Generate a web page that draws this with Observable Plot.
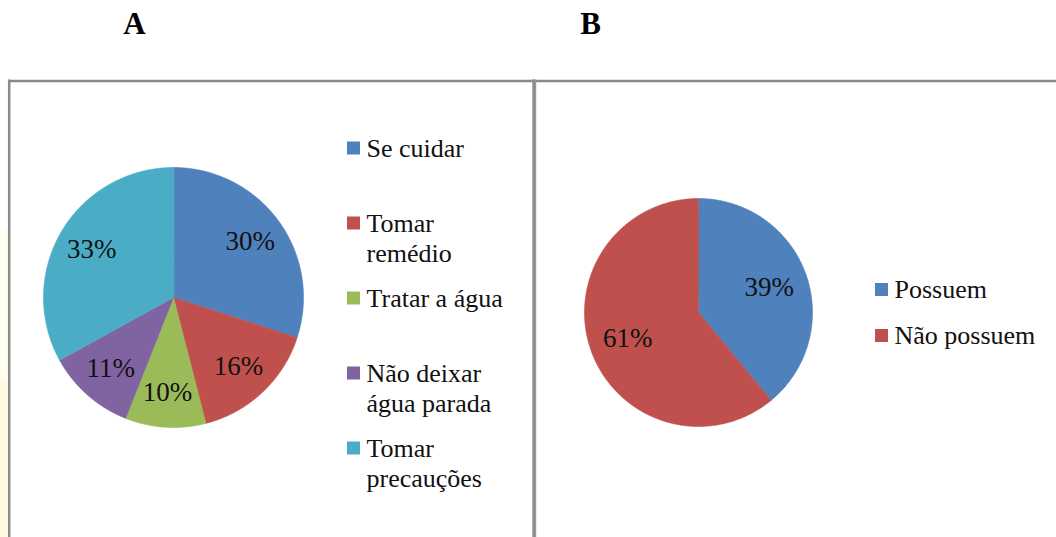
<!DOCTYPE html>
<html>
<head>
<meta charset="utf-8">
<script src="https://cdn.jsdelivr.net/npm/d3@7"></script>
<script src="https://cdn.jsdelivr.net/npm/@observablehq/plot@0.6"></script>
<style>
  html, body { margin: 0; padding: 0; background: #fff; }
  #chart svg { display: block; }
  #chart svg text { font-family: "Liberation Serif", "Times New Roman", Times, serif; }
</style>
</head>
<body>
<div id="chart"></div>
<script>
// ---------- data ----------
const panelTitles = ["A", "B"];
const categoriesA = ["Se cuidar", "Tomar remédio", "Tratar a água", "Não deixar água parada", "Tomar precauções"];
const valuesA = [30, 16, 10, 11, 33];
const legendLinesA = [["Se cuidar"], ["Tomar", "remédio"], ["Tratar a água"], ["Não deixar", "água parada"], ["Tomar", "precauções"]];
const categoriesB = ["Possuem", "Não possuem"];
const valuesB = [39, 61];
const legendLinesB = [["Possuem"], ["Não possuem"]];
const coloursA = ["#4F81BD", "#C0504D", "#9BBB59", "#8064A2", "#4BACC6"];
const coloursB = ["#4F81BD", "#C0504D"];

// ---------- layout ----------
const W = 1056, H = 537;
const font = "Liberation Serif, Times New Roman, serif";
const pies = [
  {id: "A", cats: categoriesA, vals: valuesA, lines: legendLinesA, cx: 173, cy: 297, r: 130, labelR: 0.73,
   legX: 347, legY0: 148, legStep: 75, titleX: 134},
  {id: "B", cats: categoriesB, vals: valuesB, lines: legendLinesB, cx: 698, cy: 312, r: 114, labelR: 0.66,
   legX: 875, legY0: 289.5, legStep: 46, titleX: 590}
];

const slicePts = [], labels = [], swatches = [], legendText = [];
for (const p of pies) {
  const arcs = d3.pie().sort(null).value(d => d.v)(p.cats.map((c, i) => ({c, v: p.vals[i]})));
  arcs.forEach((a, i) => {
    const key = p.id + i;
    slicePts.push({key, cat: a.data.c, x: p.cx, y: p.cy});
    const n = Math.max(2, Math.ceil((a.endAngle - a.startAngle) / (Math.PI / 360)));
    for (let k = 0; k <= n; k++) {
      const t = a.startAngle + (a.endAngle - a.startAngle) * k / n;
      slicePts.push({key, cat: a.data.c, x: p.cx + p.r * Math.sin(t), y: p.cy - p.r * Math.cos(t)});
    }
    const m = (a.startAngle + a.endAngle) / 2;
    labels.push({x: p.cx + p.r * p.labelR * Math.sin(m), y: p.cy - p.r * p.labelR * Math.cos(m), text: a.data.v + "%"});
    const yc = p.legY0 + i * p.legStep;
    swatches.push({cat: a.data.c, x1: p.legX, x2: p.legX + 13, y1: yc - 6.5, y2: yc + 6.5});
    p.lines[i].forEach((t, j) => legendText.push({x: p.legX + 19, y: yc + j * 30, text: t}));
  });
}

const titles = pies.map((p, i) => ({x: p.titleX, y: 23.5, text: panelTitles[i]}));

const chart = Plot.plot({
  width: W, height: H,
  margin: 0,
  x: {type: "linear", domain: [0, W], range: [0, W], axis: null},
  y: {type: "linear", domain: [0, H], range: [0, H], axis: null},
  color: {domain: categoriesA.concat(categoriesB), range: coloursA.concat(coloursB)},
  style: {fontFamily: font, background: "#fff"},
  marks: [
    // faint yellow glow on the left edge
    Plot.rect([{x1: 0, x2: 7.5, y1: 230, y2: 380}], {x1: "x1", x2: "x2", y1: "y1", y2: "y2", fill: "#fffdf0"}),
    Plot.rect([{x1: 0, x2: 7.5, y1: 380, y2: H}], {x1: "x1", x2: "x2", y1: "y1", y2: "y2", fill: "#fffbe2"}),
    // panel borders
    Plot.ruleY([80.5], {x1: 8.7, x2: W, stroke: "#8a8a8a", strokeWidth: 2.5}),
    Plot.ruleX([8.7], {y1: 79.5, y2: H, stroke: "#8a8a8a", strokeWidth: 2.5}),
    Plot.ruleX([533.7], {y1: 79.5, y2: H, stroke: "#999", strokeWidth: 4}),
    Plot.ruleX([533.7], {y1: 79.5, y2: H, stroke: "#8a8a8a", strokeWidth: 1.5}),
    // slices
    Plot.line(slicePts, {x: "x", y: "y", z: "key", fill: "cat", stroke: "cat", strokeWidth: 0.6, curve: "linear-closed"}),
    // slice labels
    Plot.text(labels, {x: "x", y: "y", text: "text", fontSize: 27, fill: "#111", fontFamily: font}),
    // legend
    Plot.rect(swatches, {x1: "x1", x2: "x2", y1: "y1", y2: "y2", fill: "cat"}),
    Plot.text(legendText, {x: "x", y: "y", text: "text", textAnchor: "start", fontSize: 26, fill: "#111", fontFamily: font}),
    // panel titles
    Plot.text(titles, {x: "x", y: "y", text: "text", fontSize: 31, fontWeight: "bold", fill: "#000", fontFamily: font})
  ]
});
document.getElementById("chart").appendChild(chart);
</script>
</body>
</html>
